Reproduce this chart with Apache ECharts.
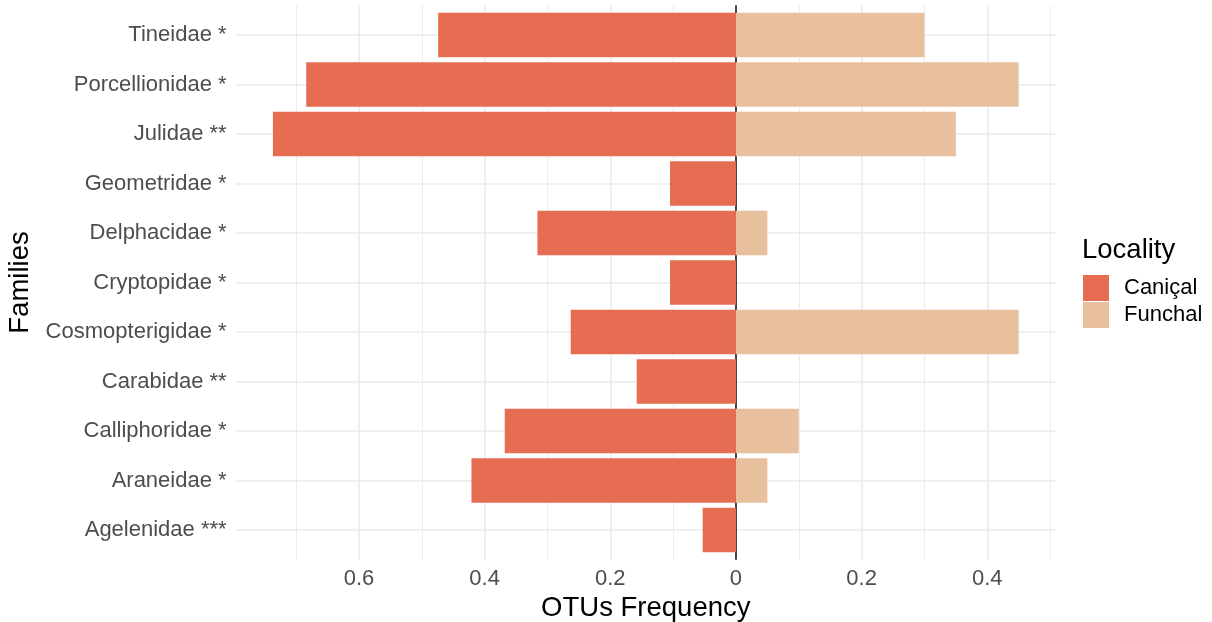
<!DOCTYPE html>
<html>
<head>
<meta charset="utf-8">
<script src="https://cdn.jsdelivr.net/npm/echarts@6/dist/echarts.min.js"></script>
<style>
  html, body { margin: 0; padding: 0; background: #ffffff; }
  #chart { width: 1212px; height: 622px; }
</style>
</head>
<body>
<div id="chart"></div>
<script>
// Families, bottom to top
const families = [
  'Agelenidae ***', 'Araneidae *', 'Calliphoridae *', 'Carabidae **',
  'Cosmopterigidae *', 'Cryptopidae *', 'Delphacidae *', 'Geometridae *',
  'Julidae **', 'Porcellionidae *', 'Tineidae *'
];
// OTU frequency per locality (Caniçal drawn to the left of zero)
const canical = [0.053, 0.421, 0.368, 0.158, 0.263, 0.105, 0.316, 0.105, 0.737, 0.684, 0.474];
const funchal = [0, 0.05, 0.10, 0, 0.45, 0, 0.05, 0, 0.35, 0.45, 0.30];
const tickValues = [-0.6, -0.4, -0.2, 0, 0.2, 0.4];
const gridValues = [-0.7, -0.6, -0.5, -0.4, -0.3, -0.2, -0.1, 0, 0.1, 0.2, 0.3, 0.4, 0.5];
const majorValues = [-0.6, -0.4, -0.2, 0, 0.2, 0.4];

const colCanical = '#E76D52';
const colFunchal = '#E8C09E';
const FONT = 'Liberation Sans, Arial, Helvetica, sans-serif';

// x range with 5% padding on each side of the data
const lo = -Math.max(...canical);
const hi = Math.max(...funchal);
const pad = 0.05 * (hi - lo);
const xMin = lo - pad, xMax = hi + pad;

const chart = echarts.init(document.getElementById('chart'), null, { renderer: 'canvas' });

const hiddenAxis = {
  axisLine: { show: false }, axisTick: { show: false },
  axisLabel: { show: false }, splitLine: { show: false }
};

const noSym = ['none', 'none'];

chart.setOption({
  animation: false,
  backgroundColor: '#ffffff',
  title: {
    text: 'Locality', left: 1077, top: 231,
    textStyle: { fontFamily: FONT, fontSize: 27.5, fontWeight: 'normal', color: '#000000' }
  },
  legend: {
    orient: 'vertical', left: 1078, top: 270,
    itemWidth: 26, itemHeight: 26, itemGap: 1,
    icon: 'rect',
    data: ['Caniçal', 'Funchal'],
    textStyle: { fontFamily: FONT, fontSize: 22, color: '#000000', padding: [0, 0, 0, 10] }
  },
  grid: [
    // panel used for the vertical grid lines and zero line
    { left: 235.6, right: 156, top: 5.3, bottom: 62.3, containLabel: false, outerBoundsMode: 'none' },
    // panel used for the bars and the axes
    { left: 235.6, right: 156, top: 10.25, bottom: 67.25, containLabel: false, outerBoundsMode: 'none' }
  ],
  xAxis: [
    Object.assign({ type: 'value', gridIndex: 0, min: xMin, max: xMax }, hiddenAxis),
    {
      type: 'value', gridIndex: 1, min: xMin, max: xMax,
      name: 'OTUs Frequency', nameLocation: 'middle', nameGap: 33,
      nameTextStyle: { fontFamily: FONT, fontSize: 27.5, color: '#000000' },
      axisLine: { show: false }, axisTick: { show: false }, splitLine: { show: false },
      axisLabel: {
        customValues: tickValues, margin: 13,
        fontFamily: FONT, fontSize: 22, color: '#4D4D4D',
        formatter: v => { const a = Math.abs(Math.round(v * 10) / 10); return a === 0 ? '0' : String(a); }
      }
    }
  ],
  yAxis: [
    Object.assign({ type: 'value', gridIndex: 0, min: 0, max: 1 }, hiddenAxis),
    {
      type: 'category', gridIndex: 1, data: families,
      name: 'Families', nameLocation: 'middle', nameGap: 198,
      nameTextStyle: { fontFamily: FONT, fontSize: 27.5, color: '#000000' },
      axisLine: { show: false }, axisTick: { show: false }, splitLine: { show: false },
      axisLabel: { margin: 9, padding: [5, 0, 0, 0], fontFamily: FONT, fontSize: 22, color: '#4D4D4D' }
    }
  ],
  series: [
    {
      // vertical grid lines
      type: 'line', xAxisIndex: 0, yAxisIndex: 0, data: [[0, -1]], symbol: 'none',
      silent: true, legendHoverLink: false,
      markLine: {
        silent: true, symbol: noSym, label: { show: false }, z: 0,
        animation: false,
        data: gridValues.map(v => ({
          xAxis: v,
          lineStyle: { color: '#EBEBEB', width: majorValues.some(m => Math.abs(m - v) < 1e-9) ? 1.6 : 0.9, type: 'solid' }
        }))
      }
    },
    {
      // horizontal grid lines at each family
      type: 'line', xAxisIndex: 1, yAxisIndex: 1, data: [], symbol: 'none',
      silent: true,
      markLine: {
        silent: true, symbol: noSym, label: { show: false }, z: 0,
        animation: false,
        lineStyle: { color: '#EBEBEB', width: 1.6, type: 'solid' },
        data: families.map(f => ({ yAxis: f }))
      }
    },
    {
      // zero reference line
      type: 'line', xAxisIndex: 0, yAxisIndex: 0, data: [[0, -1]], symbol: 'none',
      silent: true,
      markLine: {
        silent: true, symbol: noSym, label: { show: false }, z: 1,
        animation: false,
        lineStyle: { color: '#1A1A1A', width: 1.6, type: 'solid' },
        data: [{ xAxis: 0 }]
      }
    },
    {
      name: 'Caniçal', type: 'bar', xAxisIndex: 1, yAxisIndex: 1,
      data: canical.map(v => -v), barWidth: '90%', barGap: '-100%', z: 2,
      itemStyle: { color: colCanical }
    },
    {
      name: 'Funchal', type: 'bar', xAxisIndex: 1, yAxisIndex: 1,
      data: funchal, barWidth: '90%', barGap: '-100%', z: 2,
      itemStyle: { color: colFunchal }
    }
  ]
});
</script>
</body>
</html>
